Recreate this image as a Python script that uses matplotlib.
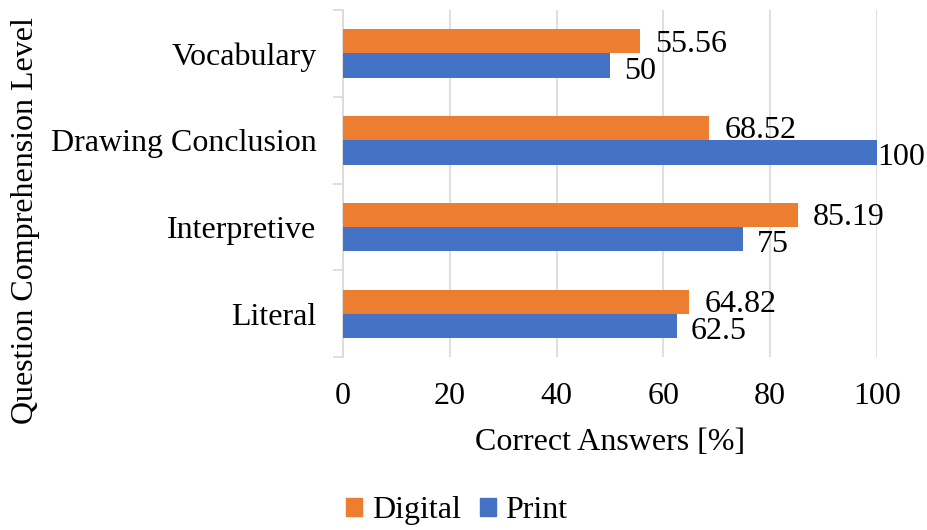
import matplotlib
matplotlib.use("Agg")
import matplotlib.pyplot as plt
import numpy as np
from matplotlib.patches import Patch

categories = ["Literal", "Interpretive", "Drawing Conclusion", "Vocabulary"]
digital = [64.82, 85.19, 68.52, 55.56]
print_vals = [62.5, 75, 100, 50]
digital_labels = ["64.82", "85.19", "68.52", "55.56"]
print_labels = ["62.5", "75", "100", "50"]
xticks = [0, 20, 40, 60, 80, 100]

plt.rcParams['font.family'] = ['Liberation Serif', 'DejaVu Serif']

fig = plt.figure(figsize=(9.27, 5.30), dpi=100)
ax = fig.add_axes([0.370, 0.326, 0.576, 0.655])

orange = "#ED7D31"
blue = "#4472C4"
y = np.arange(len(categories))
h = 0.28
bd = ax.barh(y + h / 2, digital, height=h, color=orange, zorder=3)
bp = ax.barh(y - h / 2, print_vals, height=h, color=blue, zorder=3)

fs = 23
for rect, lab, v in zip(bd, digital_labels, digital):
    ax.annotate(lab, (v, rect.get_y() + rect.get_height() / 2), xytext=(11, -2),
                textcoords="offset points", va="center", ha="left", fontsize=fs)
for rect, lab, v in zip(bp, print_labels, print_vals):
    off = 0 if v >= 100 else 10
    ax.annotate(lab, (v, rect.get_y() + rect.get_height() / 2), xytext=(off, -4),
                textcoords="offset points", va="center", ha="left", fontsize=fs)

ax.set_xlim(0, 100)
ax.set_ylim(-0.5, len(categories) - 0.5)
ax.set_xticks(xticks)
ax.set_xticklabels([str(t) for t in xticks], fontsize=fs)
ax.tick_params(axis='x', length=0, pad=18)
ax.set_yticks(y)
ax.set_yticklabels(categories, fontsize=fs)
ax.set_yticks(np.arange(-0.5, len(categories), 1), minor=True)
ax.tick_params(axis='y', which='major', length=0, pad=19)
ax.tick_params(axis='y', which='minor', length=7, color="#D9D9D9", width=1.2)
ax.grid(axis='x', color="#D9D9D9", linewidth=1.2, zorder=0)
for s in ["top", "right", "bottom"]:
    ax.spines[s].set_visible(False)
ax.spines["left"].set_color("#D9D9D9")
ax.spines["left"].set_linewidth(1.2)

ax.set_xlabel("Correct Answers [%]", fontsize=fs, labelpad=12)
ax.set_ylabel("Question Comprehension Level", fontsize=fs)
ax.yaxis.set_label_coords(-0.567, 0.395)

handles = [Patch(color=orange, label="Digital"), Patch(color=blue, label="Print")]
fig.legend(handles=handles, loc="lower center", bbox_to_anchor=(0.493, -0.045), ncol=2,
           frameon=False, fontsize=fs, handlelength=0.5, handleheight=0.5,
           handletextpad=0.3, columnspacing=0.6)

fig.savefig("out.png", dpi=100)
